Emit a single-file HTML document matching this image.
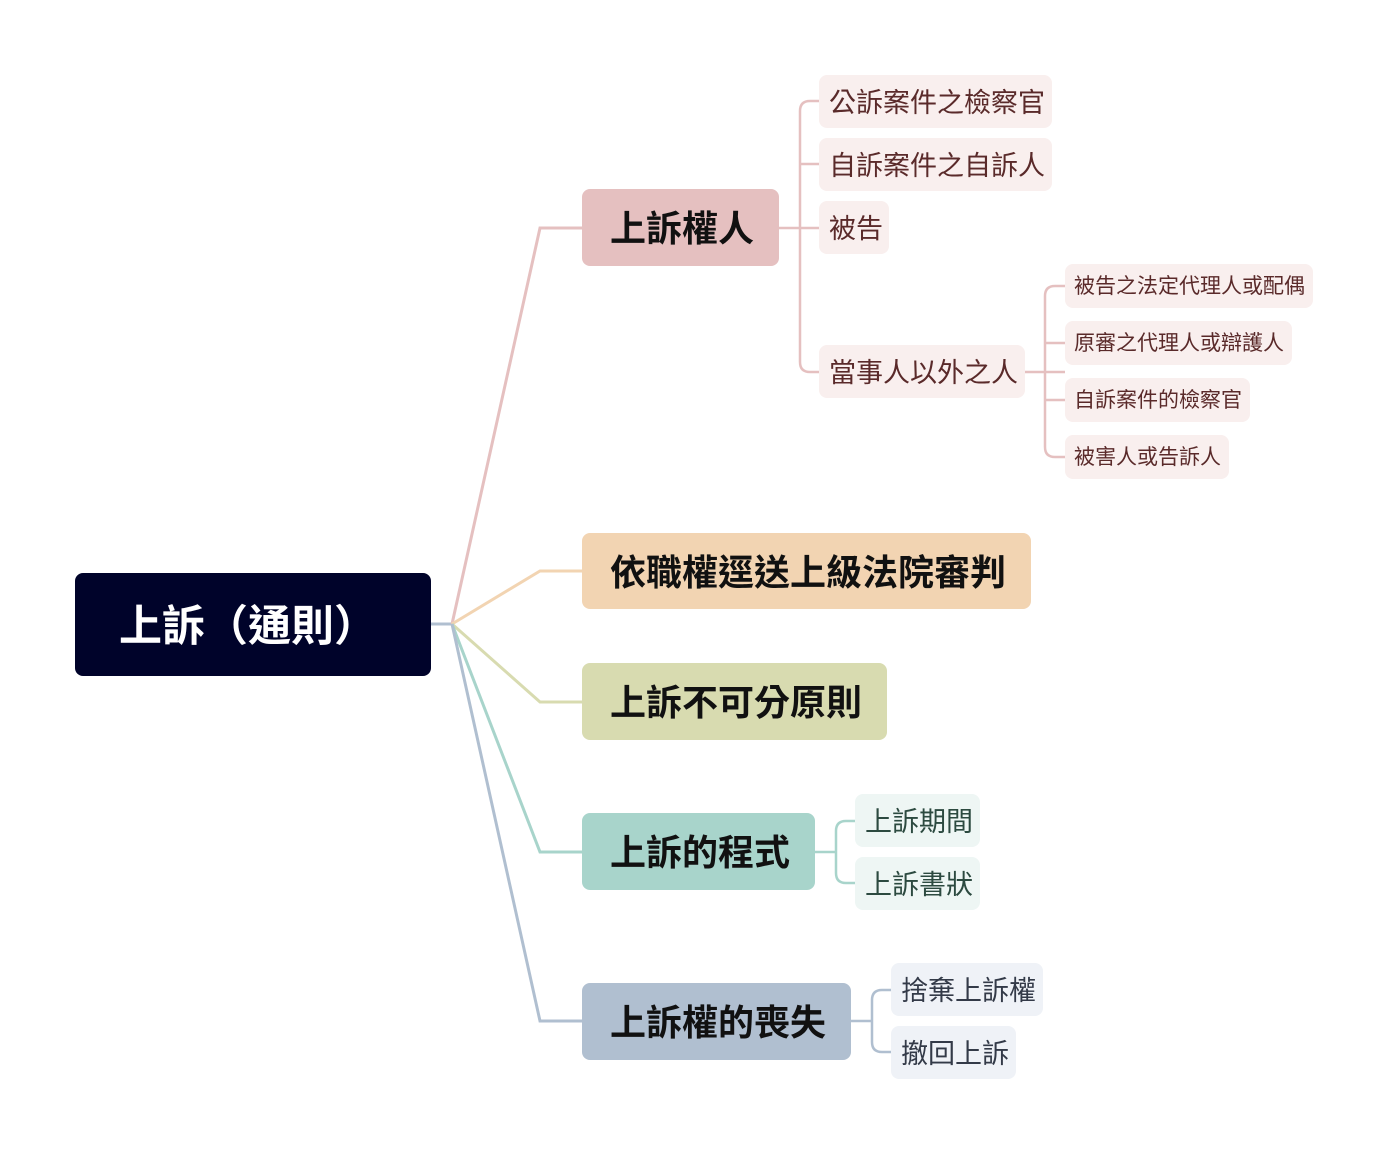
<!DOCTYPE html>
<html><head><meta charset="utf-8"><style>
body{margin:0;width:1389px;height:1155px;background:#fff;position:relative;overflow:hidden;font-family:"Liberation Sans","Noto Sans CJK TC",sans-serif}
.n{position:absolute;box-sizing:border-box;display:flex;align-items:center;white-space:nowrap;border-radius:8px;padding-bottom:3px}
.m{font-size:36px;font-weight:bold;color:#111;padding-left:28px}
.s{font-size:27px;padding-left:10px}
.t{font-size:21px;padding-left:9px}
.r{color:#5a2a2a;background:#f9efee}
.g{color:#2c4a40;background:#eef6f4}
.b{color:#333a48;background:#eff2f7}
</style></head><body>
<svg width="1389" height="1155" style="position:absolute;left:0;top:0" fill="none" stroke-width="3">
<path d="M431 624H452" stroke="#b0bfd0"/>
<path d="M452 624L540 228H582" stroke="#e5c0c0"/>
<path d="M452 624L540 571H582" stroke="#f2d4b2"/>
<path d="M452 624L540 702H582" stroke="#d8dbb0"/>
<path d="M452 624L540 852H582" stroke="#a8d4cb"/>
<path d="M452 624L540 1021H582" stroke="#b0bfd0"/>
<g stroke="#e5c0c0" stroke-width="2.5">
<path d="M779 228H819"/>
<path d="M819 101H810Q800 101 800 111V362Q800 372 810 372H819"/>
<path d="M800 164H819"/>
<path d="M1025 372H1065"/>
<path d="M1065 286H1055Q1045 286 1045 296V447Q1045 457 1055 457H1065"/>
<path d="M1045 343H1065M1045 400H1065"/>
</g>
<g stroke="#a8d4cb" stroke-width="2.5">
<path d="M815 852H836"/>
<path d="M855 821H846Q836 821 836 831V873Q836 883 846 883H855"/>
</g>
<g stroke="#b0bfd0" stroke-width="2.5">
<path d="M851 1021H872"/>
<path d="M891 990H882Q872 990 872 1000V1042Q872 1052 882 1052H891"/>
</g>
</svg>
<div class="n" style="left:75px;top:573px;width:356px;height:103px;background:#00032a;color:#fff;font-size:43px;font-weight:bold;padding-left:44px">上訴（通則）</div>
<div class="n m" style="left:582px;top:189px;width:197px;height:77px;background:#e5c0c0">上訴權人</div>
<div class="n m" style="left:582px;top:533px;width:449px;height:76px;background:#f2d4b2">依職權逕送上級法院審判</div>
<div class="n m" style="left:582px;top:663px;width:305px;height:77px;background:#d8dbb0">上訴不可分原則</div>
<div class="n m" style="left:582px;top:813px;width:233px;height:77px;background:#a8d4cb">上訴的程式</div>
<div class="n m" style="left:582px;top:983px;width:269px;height:77px;background:#b0bfd0">上訴權的喪失</div>
<div class="n s r" style="left:819px;top:75px;width:233px;height:53px">公訴案件之檢察官</div>
<div class="n s r" style="left:819px;top:138px;width:233px;height:53px">自訴案件之自訴人</div>
<div class="n s r" style="left:819px;top:201px;width:70px;height:53px">被告</div>
<div class="n s r" style="left:819px;top:345px;width:206px;height:53px">當事人以外之人</div>
<div class="n t r" style="left:1065px;top:264px;width:248px;height:44px">被告之法定代理人或配偶</div>
<div class="n t r" style="left:1065px;top:321px;width:227px;height:44px">原審之代理人或辯護人</div>
<div class="n t r" style="left:1065px;top:378px;width:185px;height:44px">自訴案件的檢察官</div>
<div class="n t r" style="left:1065px;top:435px;width:164px;height:44px">被害人或告訴人</div>
<div class="n s g" style="left:855px;top:794px;width:125px;height:53px">上訴期間</div>
<div class="n s g" style="left:855px;top:857px;width:125px;height:53px">上訴書狀</div>
<div class="n s b" style="left:891px;top:963px;width:152px;height:53px">捨棄上訴權</div>
<div class="n s b" style="left:891px;top:1026px;width:125px;height:53px">撤回上訴</div>
</body></html>
